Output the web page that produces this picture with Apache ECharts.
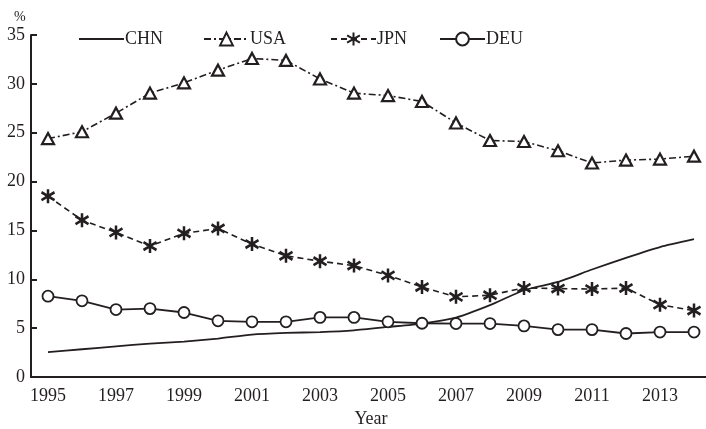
<!DOCTYPE html>
<html>
<head>
<meta charset="utf-8">
<script src="https://cdn.jsdelivr.net/npm/echarts@6/dist/echarts.min.js"></script>
<style>html,body{margin:0;padding:0;background:#fff}#c{width:706px;height:429px}</style>
</head>
<body>
<div id="c"></div>
<script>
var years = ['1995','1996','1997','1998','1999','2000','2001','2002','2003','2004','2005','2006','2007','2008','2009','2010','2011','2012','2013','2014'];
var chn = [2.55,2.84,3.14,3.42,3.62,3.93,4.34,4.51,4.6,4.78,5.12,5.47,6.08,7.35,8.88,9.73,11.0,12.2,13.3,14.1];
var usa = [24.4,25.1,27.0,29.05,30.1,31.4,32.6,32.4,30.5,29.05,28.8,28.2,26.0,24.2,24.1,23.15,21.9,22.2,22.3,22.6];
var jpn = [18.5,16.05,14.8,13.4,14.7,15.2,13.6,12.4,11.85,11.4,10.4,9.2,8.2,8.37,9.12,9.05,9.0,9.1,7.4,6.8];
var deu = [8.27,7.8,6.9,7.0,6.6,5.75,5.65,5.65,6.1,6.1,5.65,5.5,5.47,5.47,5.23,4.85,4.85,4.45,4.6,4.6];
var seriesNames = ['CHN','USA','JPN','DEU'];

var ink = '#231f20';
var font = 'Liberation Serif';
var starPath = 'path://M0,-8L0,8M-7,-4.5L7,4.5M-7,4.5L7,-4.5';

function legend(name, left, hideSymbol) {
  var item = {name: name};
  if (hideSymbol) { item.itemStyle = {opacity: 0}; }
  return {
    data: [item], left: left, top: 25, itemWidth: 45, itemHeight: 16, itemGap: 0,
    textStyle: {fontFamily: font, fontSize: 18, color: ink, padding: [0, 0, 0, -4]}
  };
}

var chart = echarts.init(document.getElementById('c'));
chart.setOption({
  animation: false,
  backgroundColor: '#fff',
  title: {text: '%', left: 9, top: 5, textStyle: {fontFamily: font, fontSize: 14, fontWeight: 'normal', color: ink}},
  legend: [legend(seriesNames[0], 73, true), legend(seriesNames[1], 198), legend(seriesNames[2], 325), legend(seriesNames[3], 434)],
  grid: {left: 31, right: -5, top: 35, bottom: 52, containLabel: false, outerBoundsMode: 'none'},
  xAxis: {
    type: 'category', data: years, boundaryGap: true,
    name: 'Year', nameLocation: 'middle', nameGap: 32,
    nameTextStyle: {fontFamily: font, fontSize: 18, color: ink},
    axisLine: {lineStyle: {color: ink, width: 2}},
    axisTick: {inside: true, length: 8, interval: 0, lineStyle: {color: ink, width: 2}},
    axisLabel: {interval: 1, fontFamily: font, fontSize: 18, color: ink, margin: 10},
    splitLine: {show: false}
  },
  yAxis: {
    type: 'value', min: 0, max: 35, interval: 5,
    axisLine: {show: true, lineStyle: {color: ink, width: 2}},
    axisTick: {show: true, inside: true, length: 6, lineStyle: {color: ink, width: 2}},
    axisLabel: {fontFamily: font, fontSize: 18, color: ink, margin: 6},
    splitLine: {show: false}
  },
  series: [
    {name: seriesNames[0], type: 'line', data: chn, showSymbol: false, symbol: 'none', smooth: 0.2,
     lineStyle: {color: ink, width: 1.8}, itemStyle: {color: ink}},
    {name: seriesNames[1], type: 'line', data: usa, symbol: 'triangle', symbolSize: [12, 11],
     lineStyle: {color: ink, width: 1.6, type: [7, 3, 2, 3]},
     itemStyle: {color: '#fff', borderColor: ink, borderWidth: 2.2}},
    {name: seriesNames[2], type: 'line', data: jpn, symbol: starPath, symbolSize: [13, 14],
     lineStyle: {color: ink, width: 1.6, type: [6, 4]},
     itemStyle: {color: ink, borderColor: ink, borderWidth: 2.6}},
    {name: seriesNames[3], type: 'line', data: deu, symbol: 'circle', symbolSize: 11,
     lineStyle: {color: ink, width: 1.8},
     itemStyle: {color: '#fff', borderColor: ink, borderWidth: 1.8}}
  ]
});
</script>
</body>
</html>
